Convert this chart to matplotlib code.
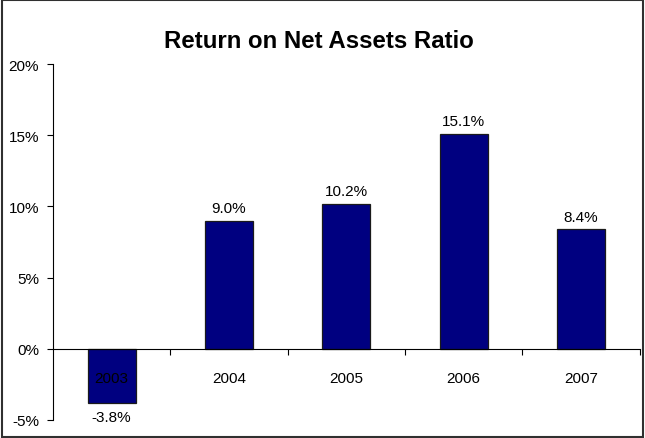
import matplotlib
matplotlib.use("Agg")
import matplotlib.pyplot as plt
from matplotlib.patches import Rectangle
from matplotlib.ticker import FuncFormatter, FixedLocator

years = ["2003", "2004", "2005", "2006", "2007"]
values = [-3.8, 9.0, 10.2, 15.1, 8.4]
labels = ["-3.8%", "9.0%", "10.2%", "15.1%", "8.4%"]

plt.rcParams['font.family'] = ['Liberation Sans', 'DejaVu Sans']

fig = plt.figure(figsize=(6.45, 4.39), dpi=100)
ax = fig.add_axes([53/645, 1-421/439, (639.5-53)/645, (421-65)/439])
ax.set_axisbelow(False)

x = list(range(len(years)))
ax.bar(x, values, width=0.41, color='#000080', edgecolor='#1a1a1a', linewidth=0.9, zorder=1)

ax.set_xlim(-0.5, len(years)-0.5)
ax.set_ylim(-5, 20)
ax.set_yticks([-5, 0, 5, 10, 15, 20])
ax.yaxis.set_major_formatter(FuncFormatter(lambda v, p: f"{v:.0f}%"))
ax.tick_params(axis='y', direction='out', length=4, width=0.8, labelsize=11, pad=6)

ax.spines['top'].set_visible(False)
ax.spines['right'].set_visible(False)
ax.spines['bottom'].set_position(('data', 0))
ax.spines['bottom'].set_linewidth(0.8)
ax.spines['left'].set_linewidth(0.8)

ax.set_xticks(x)
ax.set_xticklabels(years)
ax.xaxis.set_minor_locator(FixedLocator([i + 0.5 for i in x]))
ax.tick_params(axis='x', which='major', length=0, labelsize=11, pad=16)
ax.tick_params(axis='x', which='minor', direction='out', length=4, width=0.8)

for xi, v, lab in zip(x, values, labels):
    if v >= 0:
        ax.annotate(lab, (xi, v), xytext=(0, 4), textcoords='offset points',
                    ha='center', va='bottom', fontsize=11)
    else:
        ax.annotate(lab, (xi, v), xytext=(0, -5), textcoords='offset points',
                    ha='center', va='top', fontsize=11)

fig.text(0.4946, 1-41.5/439, "Return on Net Assets Ratio", ha='center', va='center',
         fontsize=17.3, fontweight='bold')

fig.patches.append(Rectangle((0.003, 0.003), 0.994, 0.994, transform=fig.transFigure,
                             fill=False, edgecolor='#303030', linewidth=1.5))

fig.savefig("out.png", dpi=100)
